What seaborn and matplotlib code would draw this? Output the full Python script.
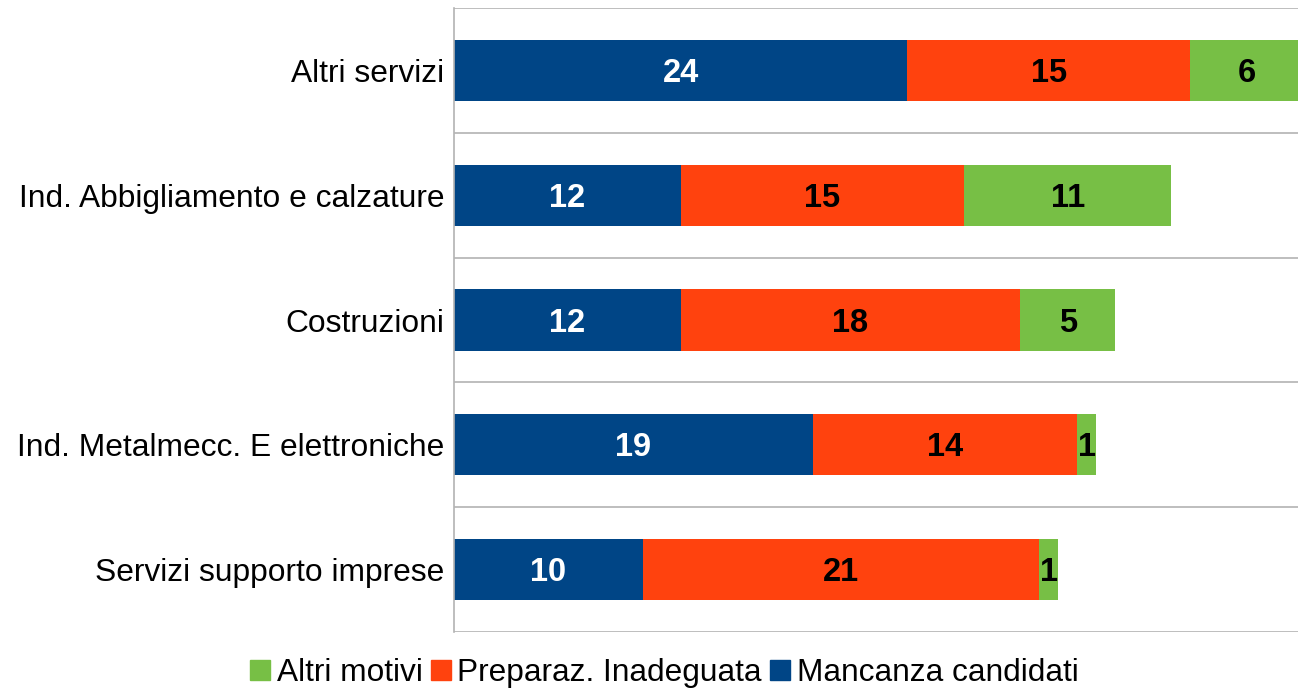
import numpy as np
import pandas as pd
import matplotlib
matplotlib.use("Agg")
import matplotlib.pyplot as plt
import seaborn as sns
from matplotlib.lines import Line2D

categories = ["Altri servizi", "Ind. Abbigliamento e calzature", "Costruzioni",
              "Ind. Metalmecc. E elettroniche", "Servizi supporto imprese"]
mancanza = [24, 12, 12, 19, 10]
preparaz = [15, 15, 18, 14, 21]
altri = [6, 11, 5, 1, 1]
series_names = ["Mancanza candidati", "Preparaz. Inadeguata", "Altri motivi"]
colors = ["#004586", "#ff420e", "#77bf45"]

sns.set_theme(style="white")
plt.rcParams['font.family'] = ['Liberation Sans', 'DejaVu Sans']
plt.rcParams['text.color'] = 'black'
plt.rcParams['ytick.color'] = 'black'

df = pd.DataFrame({"cat": categories, "m": mancanza, "p": preparaz, "a": altri})
df["mp"] = df["m"] + df["p"]
df["tot"] = df["mp"] + df["a"]

fig = plt.figure(figsize=(12.98, 6.92), dpi=100)
ax = fig.add_axes([454/1298, 1-632/692, 1-454/1298, (632-8)/692])

bw = 0.49
sns.barplot(data=df, y="cat", x="tot", color=colors[2], ax=ax, width=bw, orient="h", saturation=1, order=categories)
sns.barplot(data=df, y="cat", x="mp", color=colors[1], ax=ax, width=bw, orient="h", saturation=1, order=categories)
sns.barplot(data=df, y="cat", x="m", color=colors[0], ax=ax, width=bw, orient="h", saturation=1, order=categories)
for p in ax.patches:
    p.set_linewidth(0)

for i in range(len(categories)):
    starts = [0, mancanza[i], mancanza[i] + preparaz[i]]
    vals = [mancanza[i], preparaz[i], altri[i]]
    tcols = ["white", "black", "black"]
    for s, v, tc in zip(starts, vals, tcols):
        ax.annotate(str(v), (s + v / 2, i), xytext=(0, -2.2), textcoords="offset points",
                    ha="center", va="center", color=tc, fontsize=23.5, fontweight="bold")

ax.set_xlim(0, 44.7)
ax.set_ylim(len(categories) - 0.5, -0.5)
for yb in np.arange(-0.5, len(categories), 1.0):
    ax.axhline(yb, color="#b3b3b3", lw=1.2, zorder=0)
ax.set_xlabel("")
ax.set_ylabel("")
ax.set_xticks([])
ax.tick_params(axis="y", length=0, pad=7, labelsize=22.9, labelcolor="black")
for s in ["top", "right", "bottom"]:
    ax.spines[s].set_visible(False)
ax.spines["left"].set_color("#b3b3b3")
ax.spines["left"].set_linewidth(1.2)

handles = [Line2D([], [], marker="s", ls="", color=colors[k], markersize=13.7) for k in [2, 1, 0]]
labels = [series_names[k] for k in [2, 1, 0]]
leg = fig.legend(handles, labels, loc="center", bbox_to_anchor=(664/1298, 1-673/692), ncol=3,
                 frameon=False, fontsize=22.8, handletextpad=0.2, columnspacing=0.25, handlelength=0.65)
for t in leg.get_texts():
    t.set_color("black")

fig.savefig("out.png", dpi=100)
